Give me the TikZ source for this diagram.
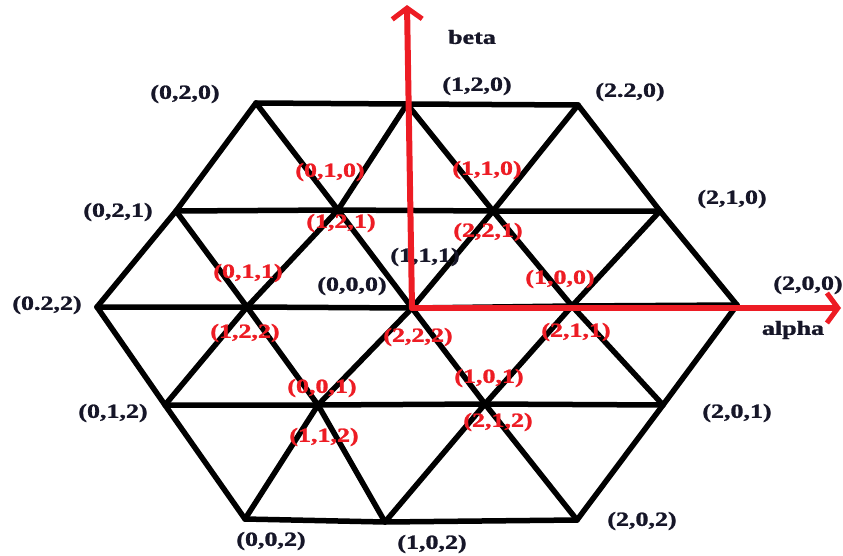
\documentclass[tikz,border=0pt]{standalone}
\usepackage{fontspec}
\setmainfont{Liberation Serif}[BoldFeatures={FakeBold=1.2}]
\usetikzlibrary{arrows.meta}
\definecolor{axred}{RGB}{237,28,36}
\definecolor{labblk}{RGB}{22,22,40}
\newcommand\lbl[1]{\scalebox{1.3}[1]{#1}}
\tikzset{
  grid/.style={line width=5.5pt, black, line join=round, line cap=round},
  axis/.style={line width=6pt, axred, line cap=round, -{Straight Barb[length=11pt,width=30pt,line width=5pt]}},
  blab/.style={text=labblk, font=\fontsize{20}{24}\selectfont\bfseries, inner sep=0pt},
  rlab/.style={text=axred, font=\fontsize{20}{24}\selectfont\bfseries, inner sep=0pt},
}
\begin{document}
\begin{tikzpicture}[x=1pt,y=-1pt]
\useasboundingbox (0,0) rectangle (843,555);
% lattice vertices
\coordinate (a1) at (256,103); \coordinate (a2) at (407,104); \coordinate (a3) at (578,105);
\coordinate (b1) at (176,211); \coordinate (b2) at (338,210); \coordinate (b3) at (493,211); \coordinate (b4) at (660,211);
\coordinate (c1) at (97,307); \coordinate (c2) at (247,307); \coordinate (c3) at (412,308); \coordinate (c4) at (572,306); \coordinate (c5) at (737,305);
\coordinate (d1) at (165,405); \coordinate (d2) at (318,405); \coordinate (d3) at (485,404); \coordinate (d4) at (663,405);
\coordinate (e1) at (245,519); \coordinate (e2) at (385,522); \coordinate (e3) at (577,520);
% horizontals
\draw[grid] (a1) -- (a2) -- (a3);
\draw[grid] (b1) -- (b2) -- (b3) -- (b4);
\draw[grid] (c1) -- (c2) -- (c3) -- (c4) -- (c5);
\draw[grid] (d1) -- (d2) -- (d3) -- (d4);
\draw[grid] (e1) -- (e2) -- (e3);
% rising diagonals
\draw[grid] (c1) -- (b1) -- (a1);
\draw[grid] (d1) -- (c2) -- (b2) -- (a2);
\draw[grid] (e1) -- (d2) -- (c3) -- (b3) -- (a3);
\draw[grid] (e2) -- (d3) -- (c4) -- (b4);
\draw[grid] (e3) -- (d4) -- (c5);
% falling diagonals
\draw[grid] (c1) -- (d1) -- (e1);
\draw[grid] (b1) -- (c2) -- (d2) -- (e2);
\draw[grid] (a1) -- (b2) -- (c3) -- (d3) -- (e3);
\draw[grid] (a2) -- (b3) -- (c4) -- (d4);
\draw[grid] (a3) -- (b4) -- (c5);
% black labels
\node[blab] (l020) at (185,94) {\lbl{(0,2,0)}};
\node[blab] (l021) at (118,212) {\lbl{(0,2,1)}};
\node[blab] (l120) at (477,86) {\lbl{(1,2,0)}};
\node[blab] (l220) at (630,92) {\lbl{(2.2,0)}};
\node[blab] (l210) at (732,199) {\lbl{(2,1,0)}};
\node[blab] (l022) at (47,305) {\lbl{(0.2,2)}};
\node[blab] (l000) at (352,286) {\lbl{(0,0,0)}};
\node[blab] (l111) at (425,257) {\lbl{(1,1,1)}};
\node[blab] (l012) at (113,413) {\lbl{(0,1,2)}};
\node[blab] (l200) at (808,285) {\lbl{(2,0,0)}};
\node[blab] (l201) at (737,413) {\lbl{(2,0,1)}};
\node[blab] (l002) at (271,541) {\lbl{(0,0,2)}};
\node[blab] (l102) at (432,544) {\lbl{(1,0,2)}};
\node[blab] (l202) at (642,521) {\lbl{(2,0,2)}};
\node[blab] (beta) at (472,37) {\lbl{beta}};
\node[blab] (alpha) at (793,330) {\lbl{alpha}};
% red labels
\node[rlab] (r010) at (330,172) {\lbl{(0,1,0)}};
\node[rlab] (r121) at (341,223) {\lbl{(1,2,1)}};
\node[rlab] (r110) at (487,170) {\lbl{(1,1,0)}};
\node[rlab] (r221) at (488,232) {\lbl{(2,2,1)}};
\node[rlab] (r011) at (248,273) {\lbl{(0,1,1)}};
\node[rlab] (r122) at (245,333) {\lbl{(1,2,2)}};
\node[rlab] (r001) at (322,388) {\lbl{(0,0,1)}};
\node[rlab] (r222) at (418,337) {\lbl{(2,2,2)}};
\node[rlab] (r100) at (560,279) {\lbl{(1,0,0)}};
\node[rlab] (r211) at (576,332) {\lbl{(2,1,1)}};
\node[rlab] (r101) at (489,378) {\lbl{(1,0,1)}};
\node[rlab] (r212) at (498,422) {\lbl{(2,1,2)}};
\node[rlab] (r112) at (324,437) {\lbl{(1,1,2)}};
% axes
\coordinate (ytip) at (407,5);
\coordinate (xtip) at (841,308);
\draw[axis] (c3) -- (ytip);
\draw[axis] (c3) -- (xtip);
\end{tikzpicture}
\end{document}
